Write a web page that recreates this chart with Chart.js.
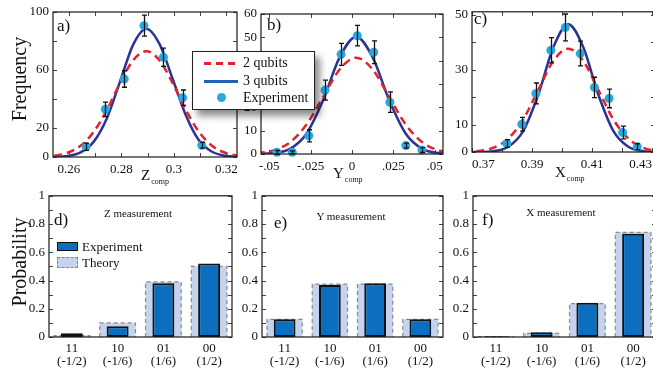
<!DOCTYPE html>
<html lang="en">
<head>
<meta charset="UTF-8" />
<meta name="viewport" content="width=device-width, initial-scale=1" />
<title>Qubit measurement statistics</title>
<script src="https://cdn.jsdelivr.net/npm/chart.js"></script>
<style>
  html, body { margin: 0; padding: 0; background: #fff; }
  body { position: relative; width: 653px; height: 373px; overflow: hidden; font-family: 'Liberation Serif', 'DejaVu Serif', serif; color: #111; }
  .panel { position: absolute; }
  .txt { position: absolute; white-space: nowrap; line-height: 1; }
  .rot { font-size: 20px; transform: translate(-50%, -50%) rotate(-90deg); }
  .tag { font-size: 17px; }
  .meas { font-size: 11px; transform: translateX(-50%); }
  .axt { font-size: 15px; }
  .axt sub { font-size: 8px; vertical-align: -4px; margin-left: 1px; }
  #legendTop { position: absolute; left: 192px; top: 51px; width: 121px; height: 57px; border: 1.3px solid #222; background: #fff; box-shadow: 5px 6px 7px rgba(0,0,0,0.45); font-size: 14px; }
  #legendTop .sw { position: absolute; left: 11px; width: 34px; height: 3px; }
  #legendTop .t { position: absolute; left: 50px; line-height: 1; }
  .key { position: absolute; box-sizing: border-box; }
  .keyt { position: absolute; font-size: 13px; line-height: 1; }
</style>
</head>
<body>

<div class="panel" style="left:13px; top:0; width:240px; height:180px;"><canvas id="chartA"></canvas></div>
<div class="panel" style="left:221px; top:0; width:238px; height:180px;"><canvas id="chartB"></canvas></div>
<div class="panel" style="left:432px; top:0; width:240px; height:180px;"><canvas id="chartC"></canvas></div>
<div class="panel" style="left:9px; top:184px; width:240px; height:189px;"><canvas id="chartD"></canvas></div>
<div class="panel" style="left:222px; top:184px; width:238px; height:189px;"><canvas id="chartE"></canvas></div>
<div class="panel" style="left:433px; top:184px; width:240px; height:189px;"><canvas id="chartF"></canvas></div>

<div class="txt rot" style="left:19px; top:79px;">Frequency</div>
<div class="txt rot" style="left:19px; top:262px;">Probability</div>

<div class="txt tag" style="left:57px; top:17px;">a)</div>
<div class="txt tag" style="left:267px; top:16px;">b)</div>
<div class="txt tag" style="left:474px; top:10px;">c)</div>
<div class="txt tag" style="left:54px; top:211px;">d)</div>
<div class="txt tag" style="left:274px; top:214px;">e)</div>
<div class="txt tag" style="left:482px; top:211px;">f)</div>

<div class="txt meas" style="left:138px; top:208px;">Z measurement</div>
<div class="txt meas" style="left:351px; top:211px;">Y measurement</div>
<div class="txt meas" style="left:561px; top:207px;">X measurement</div>

<div class="txt axt" style="left:141px; top:168px;">Z<sub>comp</sub></div>
<div class="txt axt" style="left:333px; top:166px;">Y<sub>comp</sub></div>
<div class="txt axt" style="left:555px; top:165px;">X<sub>comp</sub></div>

<div id="legendTop">
  <div class="sw" style="top:10px; background: repeating-linear-gradient(90deg, #E4222B 0 7px, transparent 7px 12px);"></div>
  <div class="t" style="top:4px;">2 qubits</div>
  <div class="sw" style="top:28px; background:#1E63B8;"></div>
  <div class="t" style="top:22px;">3 qubits</div>
  <div style="position:absolute; left:24px; top:41px; width:9px; height:9px; border-radius:50%; background:#29A8E0;"></div>
  <div class="t" style="top:39px;">Experiment</div>
</div>

<div class="key" style="left:57px; top:242px; width:21px; height:9px; background:#0B6EBE; border:1.5px solid #111;"></div>
<div class="keyt" style="left:82px; top:240px;">Experiment</div>
<div class="key" style="left:57px; top:257px; width:21px; height:11px; background:#C5D3EC; border:1.2px dashed #888;"></div>
<div class="keyt" style="left:82px; top:256px;">Theory</div>

<script>
// panel a) Z_comp
const aX = [0.2495, 0.2545, 0.2595, 0.2645, 0.2695, 0.2745, 0.2795, 0.2845, 0.2895, 0.2945, 0.2995, 0.3045, 0.3095, 0.3145, 0.3195, 0.3245];
const aTwo = [0.3, 0.9, 2.9, 7.7, 17.4, 32.5, 51.0, 66.7, 73.0, 66.7, 51.0, 32.5, 17.4, 7.7, 2.9, 0.9];
const aThree = [0.02, 0.13, 0.74, 3.2, 10.6, 26.8, 52.0, 77.5, 88.5, 78.0, 54.0, 29.0, 11.5, 3.6, 0.9, 0.2];
const aExpX = [0.2666, 0.2739, 0.2811, 0.2886, 0.2960, 0.3033, 0.3106];
const aExpY = [7.1, 32.9, 53.8, 90.6, 68.8, 40.9, 8.1];
const aErr = [2.5, 5.0, 5.7, 7.2, 6.3, 5.3, 2.0];
const aXTicks = [0.26, 0.27, 0.28, 0.29, 0.30, 0.31, 0.32];
const aXLabels = ['0.26', '', '0.28', '', '0.3', '', '0.32'];
const aYTicks = [0, 20, 40, 60, 80, 100];
const aYLabels = ['0', '20', '', '60', '', '100'];

// panel b) Y_comp
const bX = [-0.0575, -0.0475, -0.0375, -0.0275, -0.0175, -0.0075, 0.0025, 0.0125, 0.0225, 0.0325, 0.0425, 0.0525, 0.0625];
const bTwo = [0.36, 1.54, 5.0, 12.6, 24.4, 36.2, 41.3, 36.2, 24.4, 12.6, 5.0, 1.54, 0.36];
const bThree = [0.04, 0.38, 2.2, 8.7, 23.0, 41.4, 50.3, 41.4, 23.0, 8.7, 2.2, 0.38, 0.04];
const bExpX = [-0.0454, -0.0361, -0.0261, -0.0163, -0.0066, 0.0032, 0.0131, 0.0229, 0.0325, 0.0423];
const bExpY = [0.7, 0.7, 7.8, 27.4, 42.7, 50.7, 43.6, 22.2, 3.6, 1.7];
const bErr = [0.8, 0.6, 2.6, 4.3, 4.7, 4.4, 4.9, 4.4, 1.1, 1.0];
const bXTicks = [-0.05, -0.025, 0, 0.025, 0.05];
const bXLabels = ['-.05', '-.025', '0', '.025', '.05'];
const bYTicks = [0, 10, 20, 30, 40, 50, 60];
const bYLabels = ['0', '10', '20', '30', '40', '50', '60'];

// panel c) X_comp
const cX = [0.3671, 0.3721, 0.3771, 0.3821, 0.3871, 0.3921, 0.3971, 0.4021, 0.4071, 0.4121, 0.4171, 0.4221, 0.4271, 0.4321, 0.4371];
const cTwo = [0.07, 0.38, 1.55, 4.9, 11.9, 22.6, 33.1, 37.6, 33.1, 22.6, 11.9, 4.9, 1.55, 0.38, 0.07];
const cThree = [0, 0.03, 0.31, 1.9, 7.7, 20.9, 38.1, 46.5, 38.1, 20.9, 7.7, 1.9, 0.31, 0.03, 0];
const cExpX = [0.3816, 0.3866, 0.3913, 0.3963, 0.4011, 0.4061, 0.4108, 0.4157, 0.4202, 0.4251];
const cExpY = [3.1, 10.1, 21.3, 37.0, 45.3, 35.8, 23.5, 19.5, 7.1, 1.9];
const cErr = [1.4, 2.5, 3.8, 4.6, 4.9, 4.5, 3.7, 3.4, 2.3, 1.1];
const cXTicks = [0.37, 0.38, 0.39, 0.40, 0.41, 0.42, 0.43];
const cXLabels = ['0.37', '', '0.39', '', '0.41', '', '0.43'];
const cYTicks = [0, 10, 20, 30, 40, 50];
const cYLabels = ['0', '10', '', '30', '', '50'];

// bottom row: probabilities per outcome
const states = [['11', '(-1/2)'], ['10', '(-1/6)'], ['01', '(1/6)'], ['00', '(1/2)']];
const zExp = [0.026, 0.077, 0.38, 0.52];
const zTheory = [0.01, 0.10, 0.39, 0.50];
const yExp = [0.126, 0.368, 0.38, 0.125];
const yTheory = [0.125, 0.375, 0.375, 0.125];
const xExp = [0.005, 0.033, 0.243, 0.732];
const xTheory = [0.003, 0.026, 0.236, 0.741];
const probTicks = [0, 0.1, 0.2, 0.3, 0.4, 0.5, 0.6, 0.7, 0.8, 0.9, 1];
const probLabels = ['0', '', '0.2', '', '0.4', '', '0.6', '', '0.8', '', '1'];

const family = "'Liberation Serif', 'DejaVu Serif', serif";
Chart.defaults.font.family = family;
Chart.defaults.color = '#111';

function pts(xs, ys) {
    return xs.map((x, i) => ({ x: x, y: ys[i] }));
}

// box around the plot area with small inward tick marks
const framePlugin = {
    id: 'frame',
    afterDraw(chart, args, opts) {
        const { ctx, chartArea: a, scales } = chart;
        const len = 4;
        ctx.save();
        ctx.lineWidth = 1;
        ctx.strokeStyle = '#444';
        ctx.beginPath();
        if (opts.xMarks) {
            scales.x.ticks.forEach(t => {
                const p = Math.round(scales.x.getPixelForValue(t.value)) + 0.5;
                ctx.moveTo(p, a.bottom); ctx.lineTo(p, a.bottom - len);
                ctx.moveTo(p, a.top); ctx.lineTo(p, a.top + len);
            });
        }
        scales.y.ticks.forEach(t => {
            const p = Math.round(scales.y.getPixelForValue(t.value)) + 0.5;
            ctx.moveTo(a.left, p); ctx.lineTo(a.left + len, p);
            ctx.moveTo(a.right, p); ctx.lineTo(a.right - len, p);
        });
        ctx.stroke();
        ctx.strokeStyle = '#1a1a1a';
        ctx.lineWidth = 1.2;
        ctx.strokeRect(a.left, a.top, a.right - a.left, a.bottom - a.top);
        ctx.restore();
    }
};

// vertical error bars on the experiment points (dataset 0)
const errorBarPlugin = {
    id: 'errorBars',
    afterDatasetsDraw(chart, args, opts) {
        if (!opts.errors) return;
        const { ctx, scales: { y } } = chart;
        const ds = chart.data.datasets[0];
        const meta = chart.getDatasetMeta(0);
        ctx.save();
        ctx.strokeStyle = '#111';
        ctx.lineWidth = 1.3;
        ctx.beginPath();
        meta.data.forEach((pt, i) => {
            const v = ds.data[i].y, e = opts.errors[i];
            const top = y.getPixelForValue(v + e), bot = y.getPixelForValue(v - e);
            const x = Math.round(pt.x) + 0.5;
            ctx.moveTo(x, top); ctx.lineTo(x, bot);
            ctx.moveTo(x - 2.5, top); ctx.lineTo(x + 2.5, top);
            ctx.moveTo(x - 2.5, bot); ctx.lineTo(x + 2.5, bot);
        });
        ctx.stroke();
        ctx.restore();
    }
};

// dashed grey outline for the theory bars (dataset 1)
const theoryOutline = {
    id: 'theoryOutline',
    afterDatasetDraw(chart, args) {
        if (args.index !== 1) return;
        const ctx = chart.ctx;
        ctx.save();
        ctx.setLineDash([4, 3]);
        ctx.strokeStyle = '#8a8a8a';
        ctx.lineWidth = 1.2;
        args.meta.data.forEach(bar => {
            const { x, y, base, width } = bar.getProps(['x', 'y', 'base', 'width'], true);
            const l = x - width / 2, r = x + width / 2;
            ctx.beginPath();
            ctx.moveTo(l, base); ctx.lineTo(l, y); ctx.lineTo(r, y); ctx.lineTo(r, base);
            ctx.stroke();
        });
        ctx.restore();
    }
};

function curveChart(id, c) {
    return new Chart(document.getElementById(id), {
        type: 'line',
        data: {
            datasets: [
                { label: 'Experiment', data: pts(c.expX, c.expY), showLine: false, pointRadius: 4.5, pointBackgroundColor: '#29A8E0', pointBorderWidth: 0, clip: false, order: 0 },
                { label: '2 qubits', data: pts(c.x, c.two), borderColor: '#E4222B', borderWidth: 2.5, borderDash: [8, 5], pointRadius: 0, cubicInterpolationMode: 'monotone', order: 1 },
                { label: '3 qubits', data: pts(c.x, c.three), borderColor: '#2B3494', borderWidth: 2.5, pointRadius: 0, cubicInterpolationMode: 'monotone', order: 2 }
            ]
        },
        options: {
            responsive: true,
            maintainAspectRatio: false,
            animation: false,
            layout: { padding: { top: c.padTop, right: c.padRight, left: 0, bottom: 0 } },
            plugins: {
                legend: { display: false },
                tooltip: { enabled: false },
                frame: { xMarks: true },
                errorBars: { errors: c.err }
            },
            scales: {
                x: {
                    type: 'linear', min: c.xMin, max: c.xMax,
                    grid: { display: false, drawTicks: false }, border: { display: false },
                    afterBuildTicks: s => { s.ticks = c.xTicks.map(v => ({ value: v })); },
                    afterFit: s => { s.height = c.xH; },
                    ticks: { autoSkip: false, maxRotation: 0, padding: 5, align: c.align || 'center', font: { size: 13 }, callback: (v, i) => c.xLabels[i] }
                },
                y: {
                    min: 0, max: c.yMax,
                    grid: { display: false, drawTicks: false }, border: { display: false },
                    afterBuildTicks: s => { s.ticks = c.yTicks.map(v => ({ value: v })); },
                    afterFit: s => { s.width = 40; },
                    ticks: { autoSkip: false, padding: 4, font: { size: 13 }, callback: (v, i) => c.yLabels[i] }
                }
            }
        },
        plugins: [framePlugin, errorBarPlugin]
    });
}

function barChart(id, exp, theory, padRight) {
    return new Chart(document.getElementById(id), {
        type: 'bar',
        data: {
            labels: states,
            datasets: [
                { label: 'Experiment', data: exp, backgroundColor: '#0B6EBE', borderColor: '#111', borderWidth: 2, borderSkipped: false, barPercentage: 0.48, categoryPercentage: 1, grouped: false, order: 0 },
                { label: 'Theory', data: theory, backgroundColor: '#C5D3EC', borderWidth: 0, barPercentage: 0.78, categoryPercentage: 1, grouped: false, order: 1 }
            ]
        },
        options: {
            responsive: true,
            maintainAspectRatio: false,
            animation: false,
            layout: { padding: { top: 10, right: padRight, left: 0, bottom: 0 } },
            plugins: {
                legend: { display: false },
                tooltip: { enabled: false },
                frame: { xMarks: false }
            },
            scales: {
                x: {
                    grid: { display: false, drawTicks: false }, border: { display: false },
                    afterFit: s => { s.height = 36; },
                    ticks: { autoSkip: false, maxRotation: 0, padding: 5, font: { size: 13, lineHeight: 1.0 } }
                },
                y: {
                    min: 0, max: 1,
                    grid: { display: false, drawTicks: false }, border: { display: false },
                    afterBuildTicks: s => { s.ticks = probTicks.map(v => ({ value: v })); },
                    afterFit: s => { s.width = 40; },
                    ticks: { autoSkip: false, padding: 4, font: { size: 13 }, callback: (v, i) => probLabels[i] }
                }
            }
        },
        plugins: [framePlugin, theoryOutline]
    });
}

curveChart('chartA', { x: aX, two: aTwo, three: aThree, expX: aExpX, expY: aExpY, err: aErr,
    xMin: 0.254, xMax: 0.324, yMax: 100, xTicks: aXTicks, xLabels: aXLabels, yTicks: aYTicks, yLabels: aYLabels,
    padTop: 12, padRight: 16, xH: 23 });
curveChart('chartB', { x: bX, two: bTwo, three: bThree, expX: bExpX, expY: bExpY, err: bErr,
    xMin: -0.055, xMax: 0.055, yMax: 60, xTicks: bXTicks, xLabels: bXLabels, yTicks: bYTicks, yLabels: bYLabels,
    padTop: 14, padRight: 16, xH: 26 });
curveChart('chartC', { x: cX, two: cTwo, three: cThree, expX: cExpX, expY: cExpY, err: cErr,
    xMin: 0.37, xMax: 0.431, yMax: 51, xTicks: cXTicks, xLabels: cXLabels, yTicks: cYTicks, yLabels: cYLabels,
    padTop: 10, padRight: 17, xH: 28, align: 'inner' });

barChart('chartD', zExp, zTheory, 17);
barChart('chartE', yExp, yTheory, 17);
barChart('chartF', xExp, xTheory, 17);
</script>
</body>
</html>
